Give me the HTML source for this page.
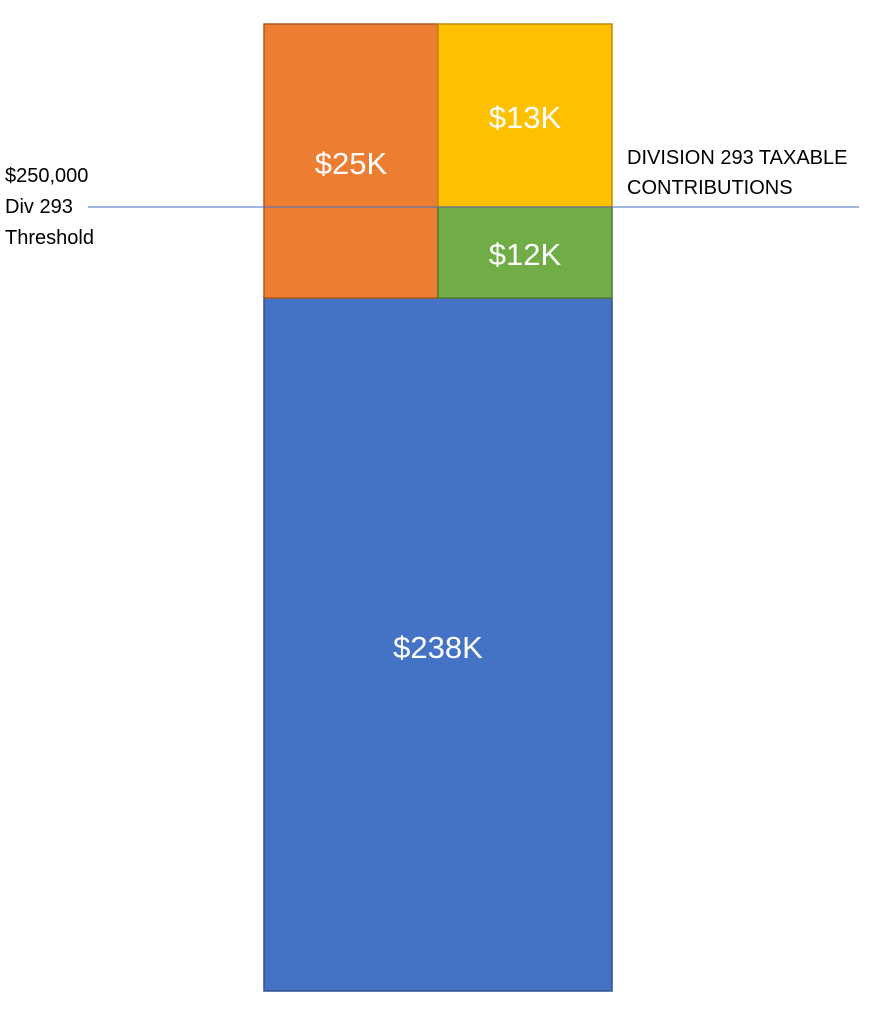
<!DOCTYPE html>
<html><head><meta charset="utf-8"><style>
html,body{margin:0;padding:0;background:#fff;width:877px;height:1019px;overflow:hidden;font-family:"Liberation Sans",sans-serif;}
svg{display:block}
</style></head><body>
<svg id="chart" width="877" height="1019" xmlns="http://www.w3.org/2000/svg">
<line x1="88" y1="207" x2="859" y2="207" stroke="#4472c4" stroke-width="1"/>
<text x="5" y="182" font-size="20" fill="#000">$250,000</text>
<text x="5" y="213" font-size="20" fill="#000">Div 293</text>
<text x="5" y="244" font-size="20" fill="#000">Threshold</text>
<text x="627" y="164" font-size="20" fill="#000">DIVISION 293 TAXABLE</text>
<text x="627" y="194" font-size="20" fill="#000">CONTRIBUTIONS</text>
</svg>
<script>
const blockNames = ['blue-base','orange-concessional','green-below','yellow-above'];
const blockLabels = ['$238K','$25K','$12K','$13K'];
const fills = ['#4472c4','#ed7d31','#70ad47','#ffc000'];
const strokes = ['#2f528f','#ae5a21','#507e32','#bc8c00'];
// layout rectangles [x,y,w,h]
const rects = [[264,298,348,693],[264,24,174,274],[438,207,174,91],[438,24,174,183]];
const labelY = [647,163,254,117];
const svg = document.getElementById('chart');
const ns = 'http://www.w3.org/2000/svg';
for (let i=0;i<blockNames.length;i++){
  const r = document.createElementNS(ns,'rect');
  r.setAttribute('x',rects[i][0]);r.setAttribute('y',rects[i][1]);
  r.setAttribute('width',rects[i][2]);r.setAttribute('height',rects[i][3]);
  r.setAttribute('fill',fills[i]);r.setAttribute('stroke',strokes[i]);r.setAttribute('stroke-width','1.5');
  
  
  svg.appendChild(r);
  const t = document.createElementNS(ns,'text');
  t.setAttribute('x',rects[i][0]+rects[i][2]/2);t.setAttribute('y',labelY[i]+11);
  t.setAttribute('text-anchor','middle');t.setAttribute('font-size','31');t.setAttribute('fill','#fff');
  t.textContent = blockLabels[i];
  
  
  svg.appendChild(t);
}
svg.appendChild(svg.querySelector('line'));
</script>
</body></html>
